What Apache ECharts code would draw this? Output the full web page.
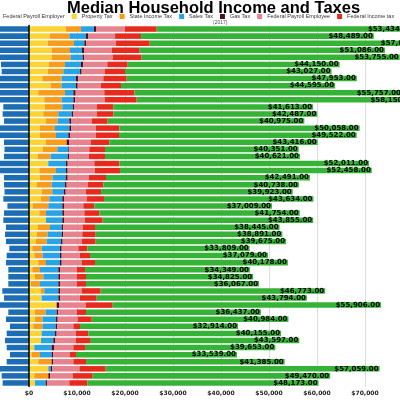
<!DOCTYPE html>
<html><head><meta charset="utf-8">
<script src="https://cdn.jsdelivr.net/npm/echarts@6/dist/echarts.min.js"></script>
<style>html,body{margin:0;padding:0;background:#fff}#c{width:400px;height:400px}</style>
</head><body><div id="c"></div>
<script>
// Rows (state labels are not visible in the picture; ranked rows top to bottom)
const categories = Array.from({length: 51}, (_, i) => String(i + 1));

const seriesNames = ['Federal Payroll Employer','Property Tax','State Income Tax','Sales Tax','Gas Tax','Federal Payroll Employee','Federal Income tax','Median Household Income'];

const payrollEmployer = [-7200,-6700,-7500,-6900,-7100,-5830,-5690,-6250,-6100,-7200,-7400,-5350,-5490,-5210,-6300,-6300,-5210,-5100,-5200,-6700,-6800,-5200,-5200,-5100,-5350,-4500,-5200,-5350,-4800,-5000,-4800,-4100,-4650,-4790,-4300,-4310,-4310,-5560,-5210,-6700,-4310,-4790,-3960,-4650,-5000,-4650,-3960,-4650,-6750,-5700,-5490];
const propertyTax = [7640,4380,3890,4720,4720,4170,3890,2780,4510,1940,3190,3330,2990,3470,2290,2290,3540,2850,1810,4030,2150,2290,1600,2640,2500,760,2150,3540,1810,1600,1460,690,1110,1940,690,1250,420,2430,2640,5760,1250,1250,900,2640,2500,1110,560,1940,4030,1110,1250];
const stateIncomeTax = [3190,4030,5490,3820,3960,3330,3260,4030,2300,5560,3620,3610,3120,2500,3130,3330,4310,3050,2700,0,3470,2640,3120,2220,1740,3270,1390,0,2570,2290,2220,1950,1740,1600,1600,1740,1870,760,0,0,2220,1600,1950,0,0,0,1730,2780,0,2920,0];
const salesTax = [2710,3470,2150,2500,2500,3330,3480,2980,2980,1740,2430,2160,2780,2430,2980,2570,0,2290,3550,3680,2080,2710,2780,2430,2700,2910,3400,3400,2430,2920,2990,3820,3610,2920,3820,3120,3820,2920,3470,0,2290,2780,2710,2780,2570,3610,2430,0,490,0,2220];
const gasTax = [420,490,350,420,350,490,340,490,350,480,410,280,350,350,350,350,480,210,270,350,350,420,350,350,420,350,350,350,340,340,340,350,350,350,350,350,350,350,350,490,350,350,340,340,350,490,350,350,350,350,350];
const payrollEmployee = [6040,5560,6250,5760,5900,5000,4860,5210,4860,5970,6180,4720,4860,4310,5210,5420,4580,4170,4170,5560,5690,4440,4370,4240,4650,4030,4240,4380,4030,3960,4030,3470,3820,4160,3470,3470,3470,4510,4170,5560,3820,4170,3340,4030,4300,4030,3470,4170,5630,4720,4580];
const federalIncomeTax = [6600,5410,7010,5840,6040,4240,4170,4860,4170,6250,6600,3470,3470,3330,4860,4790,3820,3260,3330,5210,5210,3540,3270,3130,3610,2290,3120,3680,2570,2780,2850,1880,2080,2780,1740,1940,1940,3960,3470,5620,1940,2920,1390,2570,2990,2430,1250,2640,5480,4170,3750];
const medianIncome = [53434,48489,57600,51086,53755,44150,43027,47953,44595,55757,58150,41613,42487,40975,50058,49522,43416,40351,40621,52011,52458,42491,40738,39923,43634,37009,41754,43855,38445,38891,39675,33809,37079,40178,34349,34825,36067,46773,43794,55906,36437,40984,32914,40155,43597,39653,33539,41385,57059,49470,48173];

const colors = ['#1c6db3','#fbd435','#f89c1c','#27a3e6','#4a0f22','#e7828f','#e72a1e','#36b336'];
const FONT = 'DejaVu Sans';
const SANS = 'Liberation Sans';

const dataSets = [payrollEmployer, propertyTax, stateIncomeTax, salesTax, gasTax, payrollEmployee, federalIncomeTax, medianIncome];

const money = v => '$' + Number(v).toLocaleString('en-US');
const money2 = v => '$' + Number(v).toLocaleString('en-US', {minimumFractionDigits: 2, maximumFractionDigits: 2});

const series = dataSets.map((d, i) => {
  const s = {
    name: seriesNames[i], type: 'bar', stack: 'total', data: d,
    barCategoryGap: '22%',
    itemStyle: {color: colors[i]},
    emphasis: {disabled: true},
    animation: false
  };
  if (i === dataSets.length - 1) {
    s.label = {
      show: true, position: 'insideRight', distance: 1,
      formatter: p => money2(p.value),
      fontFamily: FONT, fontWeight: 'bold', fontSize: 7, color: '#000'
    };
  }
  return s;
});

const chart = echarts.init(document.getElementById('c'), null, {renderer: 'canvas'});
chart.setOption({
  backgroundColor: '#fff',
  animation: false,
  color: colors,
  title: [
    {text: 'Median Household Income and Taxes', left: 67, top: 0, padding: 0,
     textStyle: {fontFamily: SANS, fontWeight: 'bold', fontSize: 16.5, color: '#000'}},
    {text: '(2017)', left: 213, top: 20, padding: 0,
     textStyle: {fontFamily: SANS, fontWeight: 'normal', fontSize: 5, color: '#555'}}
  ],
  legend: {
    data: seriesNames.slice(0, 7), left: -7, top: 13.5, width: 800, padding: 0,
    icon: 'rect', itemWidth: 5, itemHeight: 5, itemGap: 7,
    textStyle: {fontFamily: SANS, fontSize: 5.5, color: '#333'}
  },
  grid: {left: -19, right: -61, top: 25.5, bottom: 13.5, outerBoundsMode: 'none', containLabel: false},
  xAxis: {
    type: 'value', min: -10000, max: 90000, interval: 10000,
    axisLine: {show: false}, axisTick: {show: false},
    splitLine: {show: true, lineStyle: {color: '#dcdcdc', width: 1}},
    axisLabel: {
      formatter: v => (v < 0 || v > 70000) ? '' : money(v),
      fontFamily: FONT, fontWeight: 'bold', fontSize: 6, color: '#222', margin: 4
    }
  },
  yAxis: {
    type: 'category', data: categories, inverse: true, z: 10,
    axisLabel: {show: false}, axisTick: {show: false},
    axisLine: {show: true, onZero: true, lineStyle: {color: '#000', width: 1.5}}
  },
  series: series
});
</script>
</body></html>
